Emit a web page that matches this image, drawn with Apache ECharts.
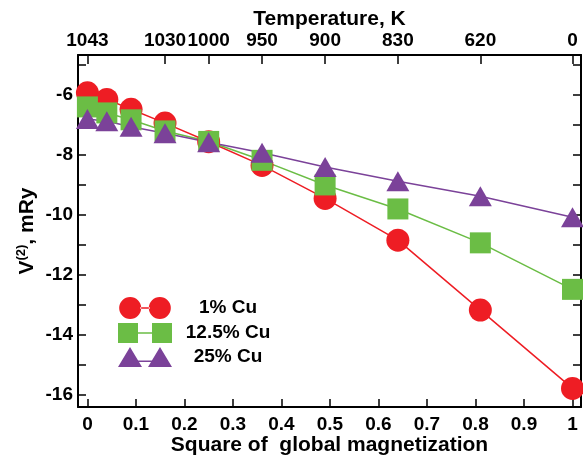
<!DOCTYPE html>
<html>
<head>
<meta charset="utf-8">
<script src="https://cdn.jsdelivr.net/npm/echarts@6/dist/echarts.min.js"></script>
<style>
html, body { margin: 0; padding: 0; background: #fff; }
#main { width: 583px; height: 457px; }
</style>
</head>
<body>
<div id="main"></div>
<script>
// square of global magnetization (x) and V(2) in mRy for each alloy
var m2 = [0, 0.04, 0.09, 0.16, 0.25, 0.36, 0.49, 0.64, 0.81, 1];
var cu1 = [-5.95, -6.17, -6.5, -6.96, -7.58, -8.37, -9.47, -10.86, -13.19, -15.8];
var cu12 = [-6.42, -6.62, -6.85, -7.22, -7.57, -8.2, -9.02, -9.82, -10.95, -12.5];
var cu25 = [-6.82, -6.9, -7.08, -7.3, -7.6, -7.95, -8.42, -8.9, -9.4, -10.1];
var seriesNames = ['1% Cu', '12.5% Cu', '25% Cu'];

// top axis: temperature at given magnetization
var tempPos = [0, 0.16, 0.25, 0.36, 0.49, 0.64, 0.81, 1];
var tempLabels = ['1043', '1030', '1000', '950', '900', '830', '620', '0'];

var FONT = '"Liberation Sans", Arial, sans-serif';
var RED = '#ee1d24', GREEN = '#6bbd45', PURPLE = '#7b4299';

function pairs(ys) {
    return m2.map(function (x, i) { return [x, ys[i]]; });
}

var myChart = echarts.init(document.getElementById('main'));

var labelStyle = { color: '#000', fontSize: 19, fontWeight: 'bold', fontFamily: FONT };
var nameStyle = { color: '#000', fontSize: 21, fontWeight: 'bold', fontFamily: FONT };
var frameLine = { show: true, onZero: false, lineStyle: { color: '#000', width: 2 } };

var option = {
    backgroundColor: '#fff',
    animation: false,
    grid: { left: 78, right: 2, top: 55, bottom: 50, outerBoundsMode: 'none' },
    legend: {
        orient: 'vertical',
        left: 113,
        top: 292,
        itemWidth: 54,
        itemHeight: 22,
        itemGap: 4,
        data: [
            { name: seriesNames[0], icon: 'path://M0,11.5 A11.5,11.5 0 1 0 23,11.5 A11.5,11.5 0 1 0 0,11.5 Z M31,11.5 A11.5,11.5 0 1 0 54,11.5 A11.5,11.5 0 1 0 31,11.5 Z M22,10.8 L32,10.8 L32,12.2 L22,12.2 Z' },
            { name: seriesNames[1], icon: 'path://M0,0 H20 V20 H0 Z M34,0 H54 V20 H34 Z M19,9.3 H35 V10.7 H19 Z' },
            { name: seriesNames[2], icon: 'path://M0,20 L12,0 L24,20 Z M30,20 L42,0 L54,20 Z M17,13.5 L37,13.5 L37,15 L17,15 Z' }
        ],
        formatter: function (name) { return '{t|' + name + '}'; },
        textStyle: {
            rich: { t: { width: 102, align: 'center', fontSize: 19, fontWeight: 'bold', fontFamily: FONT, color: '#000' } }
        }
    },
    xAxis: [{
        type: 'value',
        position: 'bottom',
        min: -0.0194,
        max: 1.0175,
        splitNumber: 10,
        name: 'Square of  global magnetization',
        nameLocation: 'middle',
        nameMoveOverlap: false,
        nameGap: 28,
        nameTextStyle: nameStyle,
        axisLine: frameLine,
        axisTick: { inside: true, length: 8, lineStyle: { color: '#000', width: 1.5 } },
        axisLabel: Object.assign({
            margin: 8,
            showMinLabel: false,
            showMaxLabel: false,
            formatter: function (v) {
                if (Math.abs(v * 10 - Math.round(v * 10)) > 1e-6) return '';
                return String(Math.round(v * 10) / 10);
            }
        }, labelStyle),
        splitLine: { show: false }
    }, {
        type: 'value',
        position: 'top',
        min: -0.0194,
        max: 1.0175,
        name: 'Temperature, K',
        nameLocation: 'middle',
        nameMoveOverlap: false,
        nameGap: 25,
        nameTextStyle: nameStyle,
        axisLine: frameLine,
        axisTick: { inside: true, length: 9, customValues: tempPos, lineStyle: { color: '#000', width: 1.5 } },
        axisLabel: Object.assign({
            margin: 5,
            customValues: tempPos,
            formatter: function (v) {
                for (var i = 0; i < tempPos.length; i++) {
                    if (Math.abs(tempPos[i] - v) < 1e-9) return tempLabels[i];
                }
                return '';
            }
        }, labelStyle),
        splitLine: { show: false }
    }],
    yAxis: [{
        type: 'value',
        position: 'left',
        min: -16.42,
        max: -4.69,
        splitNumber: 12,
        name: '{v|V}{s|(2)}{v|, mRy}',
        nameLocation: 'middle',
        nameMoveOverlap: false,
        nameGap: 38,
        nameRotate: 90,
        nameTextStyle: {
            rich: {
                v: { fontSize: 21, fontWeight: 'bold', fontFamily: FONT, color: '#000' },
                s: { fontSize: 13, fontWeight: 'bold', fontFamily: FONT, color: '#000', padding: [0, 0, 12, 0] }
            }
        },
        axisLine: frameLine,
        axisTick: { inside: true, length: 8, lineStyle: { color: '#000', width: 1.5 } },
        axisLabel: Object.assign({
            margin: 5,
            showMinLabel: false,
            showMaxLabel: false,
            formatter: function (v) {
                if (Math.abs(v - Math.round(v)) > 1e-6) return '';
                return Math.round(v) % 2 === 0 ? String(Math.round(v)) : '';
            }
        }, labelStyle),
        splitLine: { show: false }
    }, {
        type: 'value',
        position: 'right',
        min: -16.42,
        max: -4.69,
        splitNumber: 12,
        axisLine: frameLine,
        axisTick: { inside: true, length: 8, lineStyle: { color: '#000', width: 1.5 } },
        axisLabel: { show: false },
        splitLine: { show: false }
    }],
    series: [{
        name: seriesNames[0],
        type: 'line',
        data: pairs(cu1),
        symbol: 'circle',
        symbolSize: 23,
        itemStyle: { color: RED },
        lineStyle: { color: RED, width: 1.5 }
    }, {
        name: seriesNames[1],
        type: 'line',
        data: pairs(cu12),
        symbol: 'rect',
        symbolSize: 21,
        itemStyle: { color: GREEN },
        lineStyle: { color: GREEN, width: 1.5 }
    }, {
        name: seriesNames[2],
        type: 'line',
        data: pairs(cu25),
        symbol: 'triangle',
        symbolSize: [23, 20],
        itemStyle: { color: PURPLE },
        lineStyle: { color: PURPLE, width: 1.5 }
    }]
};

myChart.setOption(option);
</script>
</body>
</html>
